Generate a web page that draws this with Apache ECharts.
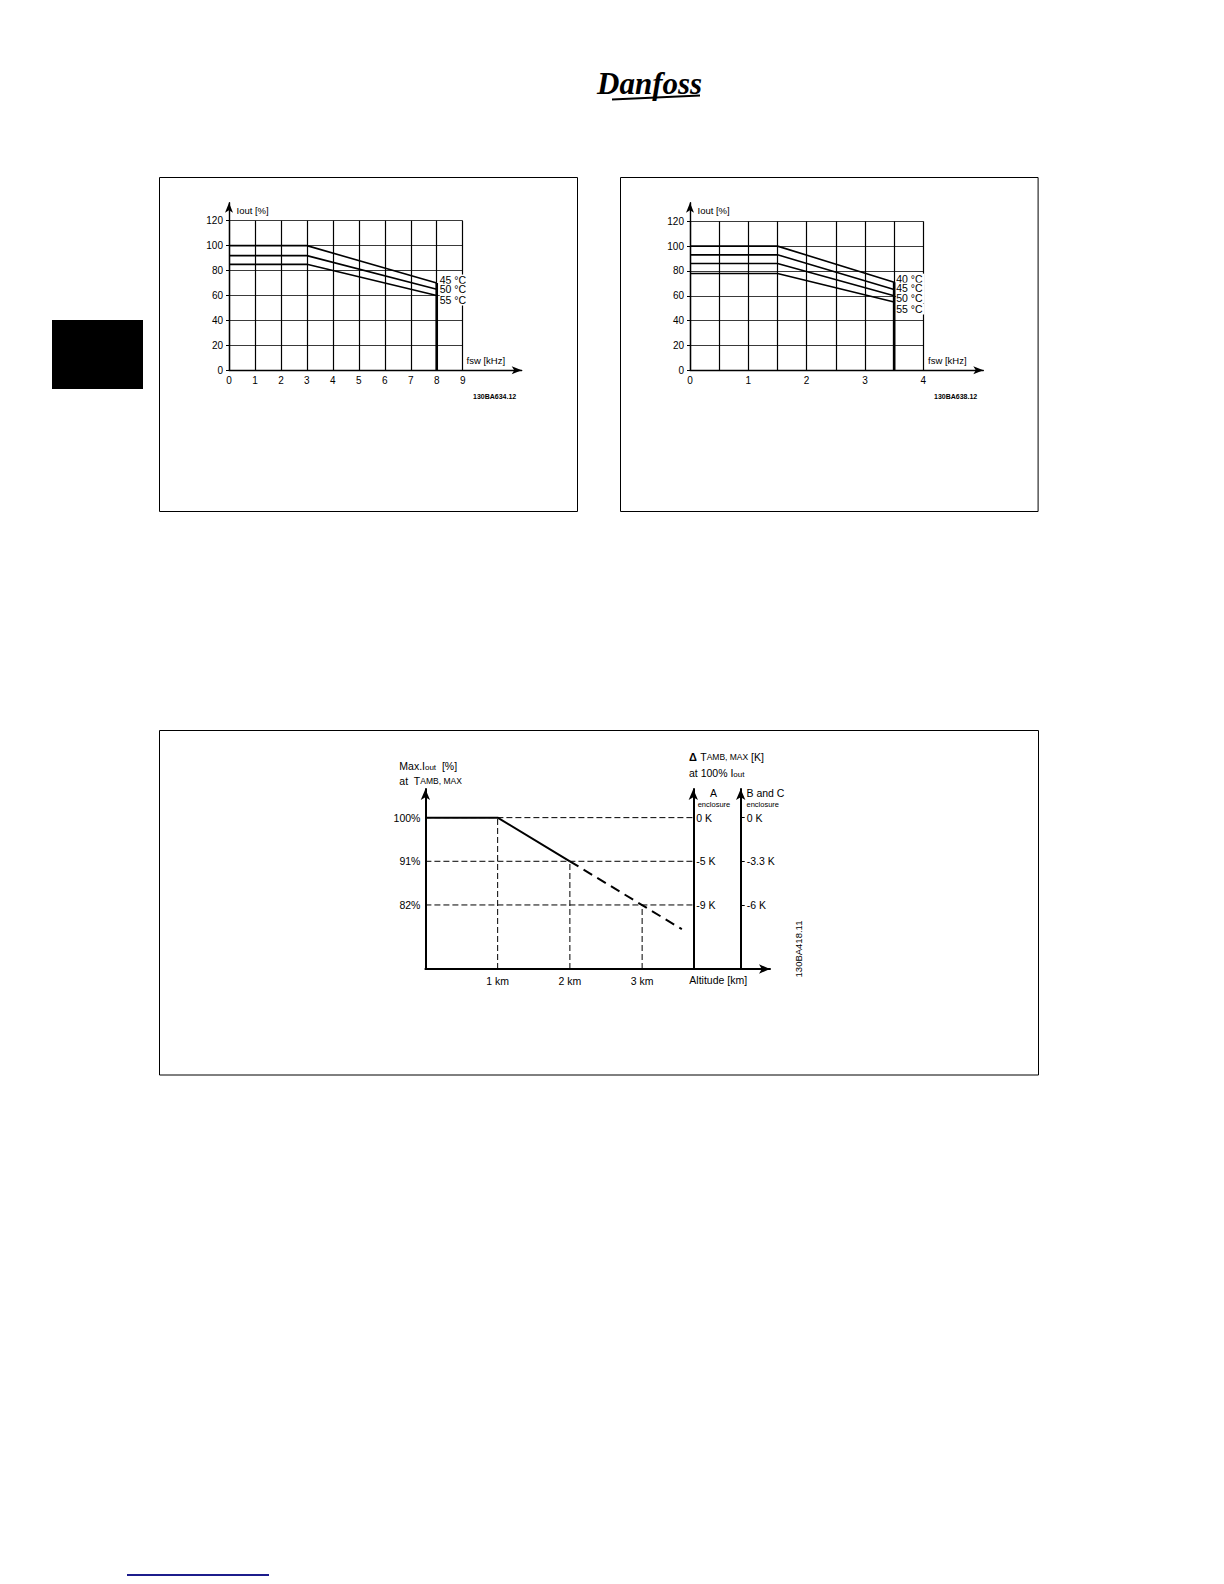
<!DOCTYPE html>
<html>
<head>
<meta charset="utf-8">
<script src="https://cdn.jsdelivr.net/npm/echarts@6/dist/echarts.min.js"></script>
<style>
html,body{margin:0;padding:0;background:#fff;}
#c{width:1224px;height:1584px;}
</style>
</head>
<body>
<div id="c"></div>
<script>
// ---------- DATA ----------
// Chart 1: derating vs switching frequency (left)
const fsw1 = [0, 3, 8];
const iout1_45 = [100, 100, 70];
const iout1_50 = [92, 92, 65];
const iout1_55 = [85, 85, 60];
const temps1 = ['45 °C', '50 °C', '55 °C'];
// Chart 2: derating vs switching frequency (right)
const fsw2 = [0, 1.5, 3.5];
const iout2_40 = [100, 100, 71];
const iout2_45 = [93, 93, 65];
const iout2_50 = [86, 86, 60];
const iout2_55 = [78, 78, 55];
const temps2 = ['40 °C', '45 °C', '50 °C', '55 °C'];
// Chart 3: altitude derating
const altSolid = [0, 1, 2];
const ioutSolid = [100, 100, 91];
const altDashed = [2, 3.55];
const ioutDashed = [91, 77];
const refAlt = [1, 2, 3];
const refIout = [100, 91, 82];
const altLabels = ['1 km', '2 km', '3 km'];
const dTambA = ['0 K', '-5 K', '-9 K'];
const dTambBC = ['0 K', '-3.3 K', '-6 K'];

// ---------- LAYOUT ----------
const FONT = "'Liberation Sans', Arial, sans-serif";
const G1 = {left:229, top:220.7, width:233.7, height:149.6};
const G1A = {left:229, top:202.7, width:292.7, height:167.6};
const G2 = {left:690, top:221.3, width:233.3, height:149};
const G2A = {left:690, top:202.7, width:293.3, height:167.6};
const G3 = {left:425.4, top:789, width:344.6, height:180};
const GA = {left:693.3, top:789, width:20, height:180};
const GB = {left:740.7, top:789, width:20, height:180};
const X3MAX = 4.77, Y3MIN = 68.8, Y3MAX = 105.9;
const aAxisKm = (GA.left - G3.left) / G3.width * X3MAX;

function gridOf(g){ return Object.assign({containLabel:false, outerBoundsMode:'none'}, g); }

const arrowLine = {show:true, symbol:['none','arrow'], symbolSize:[6,10], lineStyle:{color:'#000', width:1.4}};
function arrowAxis(gi){ return {gridIndex:gi, type:'value', min:0, max:1, axisLine:arrowLine, axisTick:{show:false}, axisLabel:{show:false}, splitLine:{show:false}}; }
function dataX(gi, max, interval, intOnly){
  return {gridIndex:gi, type:'value', min:0, max:max, interval:interval,
    axisLine:{show:false}, axisTick:{show:false},
    axisLabel:{color:'#000', fontFamily:FONT, fontSize:10, margin:5,
      formatter: v => (intOnly && Math.abs(v - Math.round(v)) > 1e-6) ? '' : String(Math.round(v))},
    splitLine:{show:true, lineStyle:{color:'#000', width:1.2}}};
}
function dataY(gi){
  return {gridIndex:gi, type:'value', min:0, max:120, interval:20,
    axisLine:{show:false}, axisTick:{show:true, length:3, lineStyle:{color:'#000'}},
    axisLabel:{color:'#000', fontFamily:FONT, fontSize:10, margin:6},
    splitLine:{show:true, lineStyle:{color:'#3a3a3a', width:1}}};
}
function curve(xi, xs, ys, label, dy, dist){
  return {type:'line', xAxisIndex:xi, yAxisIndex:xi, data: xs.map((x,i)=>[x, ys[i]]),
    showSymbol:false, silent:true, animation:false, lineStyle:{color:'#000', width:1.6},
    endLabel:{show:true, formatter: label, color:'#000', fontFamily:FONT, fontSize:10.5, distance:dist, offset:[0, dy],
      backgroundColor:'#fff', padding:[0,2,0,0]}};
}
function seg(xi, pts, style){
  return {type:'line', xAxisIndex:xi, yAxisIndex:xi, data:pts, showSymbol:false, silent:true, animation:false, lineStyle:style};
}

const series = [];
// chart 1
series.push(seg(0, [[fsw1[2],0],[fsw1[2], iout1_45[2]]], {color:'#000', width:2.6}));
[[iout1_45,-3],[iout1_50,0],[iout1_55,4.5]].forEach((d,i)=>series.push(curve(0, fsw1, d[0], temps1[i], d[1], 3)));
// chart 2
series.push(seg(2, [[fsw2[2],0],[fsw2[2], iout2_40[2]]], {color:'#000', width:2.6}));
[[iout2_40,-3],[iout2_45,-1.5],[iout2_50,2],[iout2_55,7]].forEach((d,i)=>series.push(curve(2, fsw2, d[0], temps2[i], d[1], 2)));
// chart 3 reference dashed lines
refAlt.forEach((a,i)=>{
  series.push(seg(4, [[0, refIout[i]],[aAxisKm, refIout[i]]], {color:'#000', width:1, type:[6,3]}));
  series.push(seg(4, [[a, Y3MIN],[a, refIout[i]]], {color:'#000', width:1, type:[6,3]}));
});
series.push(seg(4, altSolid.map((a,i)=>[a, ioutSolid[i]]), {color:'#000', width:2}));
series.push(seg(4, altDashed.map((a,i)=>[a, ioutDashed[i]]), {color:'#000', width:2, type:[10,6]}));

function txt(x, y, text, size, extra){
  return Object.assign({type:'text', x:x, y:y, silent:true,
    style:{text:text, fill:'#000', font: size + 'px ' + FONT, align:'left', verticalAlign:'middle'}}, extra||{});
}
function richTxt(x, y, text, rich){
  return {type:'text', x:x, y:y, silent:true, style:{text:text, fill:'#000', align:'left', verticalAlign:'middle', rich:rich}};
}
const R = {
  n:{fontFamily:FONT, fontSize:10.5, fill:'#000', color:'#000'},
  s:{fontFamily:FONT, fontSize:8, fill:'#000', color:'#000', padding:[3,0,0,0]},
  sc:{fontFamily:FONT, fontSize:8.5, fill:'#000', color:'#000'},
  b:{fontFamily:FONT, fontSize:11, fontWeight:'bold', fill:'#000', color:'#000'}
};

const graphic = [
  {type:'rect', silent:true, shape:{x:159.5, y:177.5, width:418, height:334}, style:{fill:'none', stroke:'#000', lineWidth:1}},
  {type:'rect', silent:true, shape:{x:620.5, y:177.5, width:417.6, height:334}, style:{fill:'none', stroke:'#000', lineWidth:1}},
  {type:'rect', silent:true, shape:{x:159.5, y:730.5, width:879, height:344.5}, style:{fill:'none', stroke:'#000', lineWidth:1}},
  {type:'rect', silent:true, shape:{x:52, y:320, width:91, height:69}, style:{fill:'#000'}},
  {type:'line', silent:true, shape:{x1:127, y1:1575, x2:269, y2:1575}, style:{stroke:'#1c1c8c', lineWidth:2}},
  // logo
  {type:'text', x:597, y:83, silent:true, style:{text:'Danfoss', fill:'#000', font:"italic bold 31px 'Liberation Serif', serif", align:'left', verticalAlign:'middle'}},
  {type:'line', silent:true, shape:{x1:612, y1:99.5, x2:700, y2:95.5}, style:{stroke:'#000', lineWidth:2.2}},
  // chart 1 texts
  txt(236.5, 210.7, 'Iout [%]', 9.5),
  txt(466.5, 360, 'fsw [kHz]', 9.5),
  {type:'text', x:473, y:396, silent:true, style:{text:'130BA634.12', fill:'#000', font:"bold 7px " + FONT, align:'left', verticalAlign:'middle'}},
  // chart 2 texts
  txt(697.5, 210.7, 'Iout [%]', 9.5),
  txt(928, 360, 'fsw [kHz]', 9.5),
  {type:'text', x:934, y:396, silent:true, style:{text:'130BA638.12', fill:'#000', font:"bold 7px " + FONT, align:'left', verticalAlign:'middle'}},
  // chart 3 texts
  richTxt(399.3, 766, '{n|Max.I}{s|out}{n|  [%]}', R),
  richTxt(399.3, 781, '{n|at  T}{sc|AMB, MAX}', R),
  richTxt(689, 756.7, '{b|Δ} {n|T}{sc|AMB, MAX}{n| [K]}', R),
  richTxt(689, 773.3, '{n|at 100% I}{s|out}', R),
  txt(710, 792.7, 'A', 10.5),
  txt(697.7, 804, 'enclosure', 7.5),
  txt(746.5, 792.7, 'B and C', 10.5),
  txt(746.5, 804, 'enclosure', 7.5),
  txt(689.3, 979.5, 'Altitude [km]', 10.5),
  {type:'text', x:798, y:949, rotation:Math.PI/2, silent:true, style:{text:'130BA418.11', fill:'#000', font:'9.5px ' + FONT, align:'center', verticalAlign:'middle'}}
];

const option = {
  backgroundColor:'#fff',
  animation:false,
  grid:[gridOf(G1), gridOf(G1A), gridOf(G2), gridOf(G2A), gridOf(G3), gridOf(GA), gridOf(GB)],
  xAxis:[
    dataX(0, 9, 1, false),
    arrowAxis(1),
    dataX(2, 4, 0.5, true),
    arrowAxis(3),
    {gridIndex:4, type:'value', min:0, max:X3MAX, axisLine:{show:true, symbol:['none','arrow'], symbolSize:[7,11], lineStyle:{color:'#000', width:2}},
      axisTick:{show:false}, splitLine:{show:false},
      axisLabel:{color:'#000', fontFamily:FONT, fontSize:10.5, margin:6, customValues:refAlt, showMinLabel:true, showMaxLabel:true,
        formatter: v => { const i = refAlt.indexOf(v); return i >= 0 ? altLabels[i] : ''; }}},
    {gridIndex:5, type:'value', show:false, min:0, max:1},
    {gridIndex:6, type:'value', show:false, min:0, max:1}
  ],
  yAxis:[
    dataY(0),
    arrowAxis(1),
    dataY(2),
    arrowAxis(3),
    {gridIndex:4, type:'value', min:Y3MIN, max:Y3MAX, axisLine:{show:true, onZero:false, symbol:['none','arrow'], symbolSize:[7,11], lineStyle:{color:'#000', width:2}},
      axisTick:{show:false}, splitLine:{show:false},
      axisLabel:{color:'#000', fontFamily:FONT, fontSize:10.5, margin:5, customValues:refIout, formatter: v => v + '%'}},
    {gridIndex:5, type:'value', min:Y3MIN, max:Y3MAX, axisLine:{show:true, onZero:false, symbol:['none','arrow'], symbolSize:[7,11], lineStyle:{color:'#000', width:2}},
      axisTick:{show:false}, splitLine:{show:false},
      axisLabel:{inside:true, color:'#000', fontFamily:FONT, fontSize:10.5, margin:3, customValues:refIout,
        formatter: v => { const i = refIout.indexOf(v); return i >= 0 ? dTambA[i] : ''; }}},
    {gridIndex:6, type:'value', min:Y3MIN, max:Y3MAX, axisLine:{show:true, onZero:false, symbol:['none','arrow'], symbolSize:[7,11], lineStyle:{color:'#000', width:2}},
      axisTick:{show:true, inside:true, length:4, customValues:refIout, lineStyle:{color:'#000', width:1}}, splitLine:{show:false},
      axisLabel:{inside:true, color:'#000', fontFamily:FONT, fontSize:10.5, margin:6, customValues:refIout,
        formatter: v => { const i = refIout.indexOf(v); return i >= 0 ? dTambBC[i] : ''; }}}
  ],
  series: series,
  graphic: graphic
};
const chart = echarts.init(document.getElementById('c'), null, {renderer:'svg', width:1224, height:1584});
chart.setOption(option);
</script>
</body>
</html>
